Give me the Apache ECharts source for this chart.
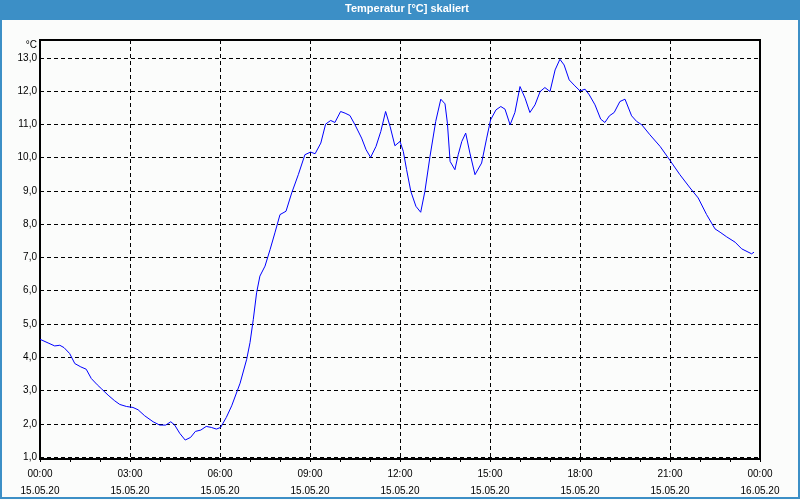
<!DOCTYPE html>
<html>
<head>
<meta charset="utf-8">
<script src="https://cdn.jsdelivr.net/npm/echarts@6/dist/echarts.min.js"></script>
<style>
  html, body { margin: 0; padding: 0; background: #fff; }
  #c { width: 800px; height: 500px; }
</style>
</head>
<body>
<div id="c"></div>
<script>
// Time of day in hours (15.05.20 00:00 = 0)
const hours = [
  0, 0.27, 0.49, 0.66, 0.8, 0.99, 1.16, 1.36, 1.54, 1.71, 1.91, 2.04, 2.27, 2.49, 2.66, 2.88,
  3.1, 3.27, 3.49, 3.77, 3.99, 4.19, 4.36, 4.49, 4.66, 4.84, 5.02, 5.18, 5.36, 5.54, 5.71, 5.88,
  6.02, 6.21, 6.39, 6.67, 6.89, 7.0, 7.11, 7.22, 7.33, 7.5, 7.67, 7.83, 8.0, 8.2, 8.39, 8.61,
  8.83, 9.02, 9.17, 9.36, 9.52, 9.69, 9.83, 10.02, 10.17, 10.33, 10.5, 10.72, 10.87, 11.02,
  11.2, 11.36, 11.52, 11.67, 11.83, 12.0, 12.11, 12.22, 12.36, 12.53, 12.69, 12.83, 13.0,
  13.19, 13.36, 13.5, 13.58, 13.67, 13.83, 13.94, 14.06, 14.19, 14.33, 14.5, 14.72, 14.89,
  15.02, 15.2, 15.36, 15.5, 15.67, 15.83, 16.0, 16.17, 16.33, 16.5, 16.67, 16.83, 17.0, 17.17,
  17.33, 17.47, 17.64, 17.83, 18.0, 18.17, 18.31, 18.5, 18.69, 18.83, 18.98, 19.14, 19.33,
  19.5, 19.72, 19.89, 20.06, 20.33, 20.67, 21.0, 21.33, 21.67, 21.94, 22.22, 22.5, 22.67,
  22.89, 23.17, 23.39, 23.72, 23.8
];
// Temperature in °C
const temps = [
  4.54, 4.43, 4.34, 4.36, 4.29, 4.11, 3.81, 3.71, 3.64, 3.36, 3.17, 3.06, 2.86, 2.69, 2.58, 2.52,
  2.49, 2.42, 2.24, 2.06, 1.96, 1.96, 2.06, 1.96, 1.71, 1.51, 1.59, 1.77, 1.81, 1.92, 1.89, 1.84,
  1.89, 2.19, 2.54, 3.22, 3.94, 4.44, 5.14, 5.94, 6.44, 6.74, 7.24, 7.74, 8.29, 8.39, 8.94, 9.49,
  10.09, 10.17, 10.12, 10.44, 11.01, 11.12, 11.06, 11.39, 11.34, 11.27, 10.99, 10.59, 10.24, 10.01,
  10.34, 10.79, 11.39, 10.94, 10.36, 10.49, 10.19, 9.64, 8.99, 8.54, 8.36, 8.99, 10.04,
  11.09, 11.76, 11.62, 11.04, 9.89, 9.64, 10.09, 10.49, 10.74, 10.14, 9.49, 9.84, 10.59,
  11.14, 11.44, 11.54, 11.46, 10.99, 11.36, 12.14, 11.79, 11.36, 11.59, 11.99, 12.11, 11.99, 12.64,
  12.96, 12.79, 12.34, 12.16, 12.01, 12.06, 11.89, 11.59, 11.16, 11.06, 11.26, 11.36, 11.69,
  11.76, 11.26, 11.09, 10.99, 10.69, 10.34, 9.92, 9.49, 9.09, 8.79, 8.29, 7.86, 7.76,
  7.62, 7.46, 7.26, 7.11, 7.16
];
const xTickLabels = [
  '00:00\n15.05.20', '03:00\n15.05.20', '06:00\n15.05.20', '09:00\n15.05.20',
  '12:00\n15.05.20', '15:00\n15.05.20', '18:00\n15.05.20', '21:00\n15.05.20',
  '00:00\n16.05.20'
];
const yTicks = [1, 2, 3, 4, 5, 6, 7, 8, 9, 10, 11, 12, 13];
const titleText = 'Temperatur [°C] skaliert';
const unitText = '°C';

const FONT = 'Liberation Sans';
const chart = echarts.init(document.getElementById('c'), null, { renderer: 'canvas' });
chart.setOption({
  animation: false,
  backgroundColor: '#fbfcfb',
  graphic: [
    { type: 'rect', z: -1, shape: { x: 0, y: 0, width: 800, height: 20 }, style: { fill: '#3c8fc6' } },
    { type: 'rect', z: -1, shape: { x: 1, y: 1, width: 798, height: 497 }, style: { fill: null, stroke: '#3c8fc6', lineWidth: 2 } }
  ],
  title: {
    text: titleText,
    left: 345,
    top: 3,
    padding: 0,
    textStyle: { color: '#ffffff', fontFamily: FONT, fontWeight: 'bold', fontSize: 11 }
  },
  grid: {
    left: 40, right: 40, top: 40, bottom: 40,
    show: true, borderColor: '#000', borderWidth: 2, backgroundColor: 'transparent'
  },
  xAxis: {
    type: 'value', min: 0, max: 24, interval: 3,
    axisLine: { show: true, lineStyle: { color: '#000', width: 2 } },
    axisTick: { show: true, length: 3, lineStyle: { color: '#000' } },
    minorTick: { show: true, splitNumber: 3, length: 3, lineStyle: { color: '#000' } },
    splitLine: { show: true, lineStyle: { color: '#000', type: [4, 3], width: 1 } },
    axisLabel: {
      margin: 7, color: '#000', fontFamily: FONT, fontSize: 10, lineHeight: 17,
      formatter: v => xTickLabels[Math.round(v / 3)]
    }
  },
  yAxis: {
    type: 'value', min: 0.94, max: 13.54,
    name: unitText, nameLocation: 'end', nameGap: -5,
    nameTextStyle: { color: '#000', fontFamily: FONT, fontSize: 10, align: 'right', verticalAlign: 'middle', padding: [0, 3, 0, 0] },
    axisLine: { show: true, lineStyle: { color: '#000', width: 2 } },
    axisTick: { show: false, customValues: yTicks },
    splitLine: { show: true, lineStyle: { color: '#000', type: [4, 3], width: 1 } },
    axisLabel: {
      customValues: yTicks, margin: 3, color: '#000', fontFamily: FONT, fontSize: 10,
      formatter: v => v.toFixed(1).replace('.', ',')
    }
  },
  series: [{
    type: 'line',
    data: hours.map((h, i) => [h, temps[i]]),
    showSymbol: false,
    lineStyle: { color: '#0000ff', width: 1 },
    itemStyle: { color: '#0000ff' }
  }]
});
</script>
</body>
</html>
